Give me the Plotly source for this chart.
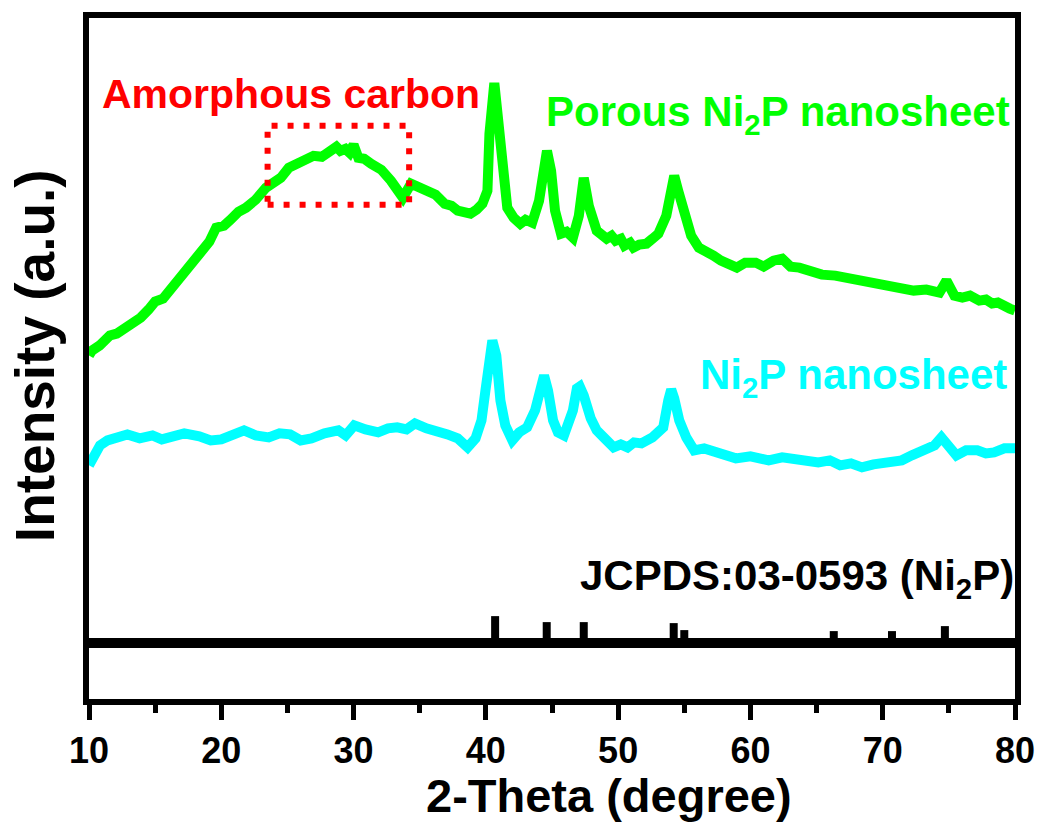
import plotly.graph_objects as go

# ---- data (2-theta in degrees, intensity in a.u.) ----
porous_theta = [10.0, 10.23, 10.8, 11.58, 12.1, 12.6, 13.3, 13.91, 14.5, 15.0, 15.6, 16.08, 16.7, 17.3,
                17.9, 18.49, 19.1, 19.61, 20.2, 20.7, 21.3, 21.87, 22.6, 23.37, 23.9, 24.5, 25.1, 25.62,
                26.3, 26.97, 27.6, 28.33, 28.7, 29.0, 29.38, 29.7, 30.0, 30.36, 30.8, 31.33, 32.1, 32.83,
                33.3, 33.73, 34.34, 34.9, 35.39, 36.2, 36.89, 37.4, 37.87, 38.4, 38.84, 39.3, 39.74, 40.12,
                40.27, 40.64, 41.10, 41.62, 42.1, 42.60, 43.0, 43.50, 44.02, 44.32, 44.62, 44.93, 45.23,
                45.68, 46.1, 46.58, 47.03, 47.40, 47.78, 48.38, 48.8, 49.13, 49.5, 49.81, 50.2, 50.48,
                50.9, 51.16, 51.6, 52.14, 52.6, 53.04, 53.64, 54.01, 54.24, 54.54, 54.99, 55.52, 56.1,
                56.72, 57.2, 57.77, 58.4, 58.97, 59.6, 60.40, 61.0, 61.75, 62.4, 63.03, 63.7, 64.53, 65.4,
                66.41, 67.3, 68.21, 69.2, 70.16, 71.2, 72.34, 73.3, 74.29, 74.6, 74.82, 75.42, 76.02, 76.6,
                77.30, 77.8, 78.27, 78.7, 79.17, 79.6, 80.0]
porous_int = [344, 349, 354, 364, 366, 370, 378, 382, 390, 398, 401, 409, 420, 430,
              436, 446, 458, 472, 474, 480, 488, 492, 500, 512, 516, 522, 532, 536,
              541, 544, 543, 549, 553, 549, 551, 547, 555, 542, 541, 536, 530, 519,
              512, 502, 516, 513, 512, 505, 496, 494, 489, 487, 486, 490, 496, 509,
              566, 617, 549, 492, 482, 476, 480, 477, 499, 534, 549, 529, 489,
              466, 468, 462, 484, 522, 494, 469, 465, 461, 464, 459, 461, 454,
              457, 452, 455, 456, 461, 466, 484, 509, 524, 509, 484, 464, 452,
              446, 444, 439, 436, 432, 437, 437, 433, 439, 441, 433, 432, 429, 425,
              424, 422, 419, 418, 415, 412, 409, 410, 407, 414, 419, 404, 402, 404,
              399, 400, 396, 397, 393, 391, 389]

ni2p_theta = [10.0, 10.23, 10.83, 11.4, 12.10, 12.9, 13.83, 14.8, 15.5, 16.23, 17.2, 18.34, 19.2, 20.0,
              20.9, 21.72, 22.6, 23.59, 24.4, 25.2, 26.0, 26.82, 27.8, 28.85, 29.4, 30.05, 30.9, 31.86,
              32.6, 33.3, 34.0, 34.64, 35.5, 36.36, 37.1, 37.87, 38.62, 39.22, 39.67, 39.97, 40.27, 40.49,
              40.79, 41.10, 41.47, 42.00, 42.52, 43.12, 43.72, 44.10, 44.40, 44.70, 45.08, 45.45, 45.90,
              46.58, 46.88, 47.10, 47.40, 47.93, 48.38, 48.91, 49.66, 50.2, 50.71, 51.2, 51.76, 52.59,
              53.41, 53.79, 54.01, 54.24, 54.62, 55.15, 55.75, 56.5, 57.40, 58.1, 58.90, 60.0, 61.38,
              62.4, 63.40, 64.2, 65.13, 66.0, 66.78, 67.6, 68.43, 69.3, 70.16, 71.44, 72.2, 72.94, 73.92,
              74.44, 74.82, 75.57, 76.3, 77.15, 77.8, 78.42, 79.2, 80.0]
ni2p_int = [234, 239, 254, 259, 262, 265, 261, 264, 260, 263, 266, 263, 259, 260,
            264, 269, 264, 262, 266, 265, 259, 261, 266, 269, 264, 274, 270, 267,
            271, 272, 270, 276, 271, 269, 265, 261, 252, 261, 279, 309, 349, 359,
            344, 299, 274, 259, 267, 272, 289, 314, 324, 309, 279, 267, 264,
            289, 311, 313, 304, 281, 269, 262, 252, 255, 252, 257, 256, 262,
            272, 299, 310, 301, 279, 262, 249, 251, 247, 245, 241, 243, 239,
            242, 241, 238, 237, 239, 234, 236, 232, 235, 236, 239, 244, 249, 254,
            262, 256, 244, 249, 249, 246, 247, 251, 251]

ref_theta = [40.7, 44.6, 47.4, 54.2, 55.0, 66.3, 70.7, 74.7]
ref_int = [83, 77, 77, 76, 69, 68, 68, 73]
ref_base = 56

x_ticks = [10, 20, 30, 40, 50, 60, 70, 80]
box_theta = [23.5, 34.2]
box_int = [495, 574]

GREEN = "#00FF00"
CYAN = "#00FFFF"
RED = "#FF0000"
FONT = "Liberation Sans"

fig = go.Figure()
fig.add_trace(go.Scatter(x=porous_theta, y=porous_int, mode="lines",
                         line=dict(color=GREEN, width=10), showlegend=False))
fig.add_trace(go.Scatter(x=ni2p_theta, y=ni2p_int, mode="lines",
                         line=dict(color=CYAN, width=10), showlegend=False))

# reference pattern baseline + sticks
fig.add_trace(go.Scatter(x=[10, 80], y=[ref_base, ref_base], mode="lines",
                         line=dict(color="black", width=10), showlegend=False))
sx, sy = [], []
for t, h in zip(ref_theta, ref_int):
    sx += [t, t, None]
    sy += [ref_base, h, None]
fig.add_trace(go.Scatter(x=sx, y=sy, mode="lines", line=dict(color="black", width=8),
                         showlegend=False))

fig.add_shape(type="rect", x0=box_theta[0], x1=box_theta[1], y0=box_int[0], y1=box_int[1],
              line=dict(color=RED, width=6, dash="6px,10px"))

ann_font = dict(family=FONT, size=42, weight="bold")
fig.add_annotation(x=10.83, y=606, text="Amorphous carbon", showarrow=False, xanchor="left",
                   yanchor="middle", font=dict(ann_font, size=41, color=RED))
fig.add_annotation(x=44.4, y=585, text="Porous Ni<sub>2</sub>P nanosheet", showarrow=False,
                   xanchor="left", yanchor="middle", font=dict(ann_font, color=GREEN))
fig.add_annotation(x=56.0, y=322, text="Ni<sub>2</sub>P nanosheet", showarrow=False,
                   xanchor="left", yanchor="middle", font=dict(ann_font, color=CYAN))
fig.add_annotation(x=47.0, y=121, text="JCPDS:03-0593 (Ni<sub>2</sub>P)", showarrow=False,
                   xanchor="left", yanchor="middle", font=dict(ann_font, color="black"))

fig.add_annotation(xref="paper", yref="paper", x=0.562, y=-0.141, text="2-Theta (degree)",
                   showarrow=False, xanchor="center", yanchor="middle",
                   font=dict(family=FONT, size=47, weight="bold", color="black"))
fig.add_annotation(xref="paper", yref="paper", x=-0.059, y=0.504, text="Intensity (a.u.)",
                   showarrow=False, xanchor="center", yanchor="middle", textangle=-90,
                   font=dict(family=FONT, size=55, weight="bold", color="black"))

fig.update_xaxes(range=[10, 80], tickvals=x_ticks, ticktext=[str(v) for v in x_ticks],
                 showline=True, linecolor="black", linewidth=6, mirror=True,
                 ticks="outside", ticklen=15, tickwidth=5, tickcolor="black",
                 ticklabelstandoff=0,
                 minor=dict(dtick=5, tick0=10, ticks="outside", ticklen=8, tickwidth=5,
                            tickcolor="black", showgrid=False),
                 tickfont=dict(family=FONT, size=36, weight="bold", color="black"),
                 showgrid=False, zeroline=False)
fig.update_yaxes(range=[0, 682], showline=True, linecolor="black", linewidth=6, mirror=True,
                 ticks="", showticklabels=False, showgrid=False, zeroline=False)

fig.update_layout(width=1047, height=823, margin=dict(l=89, r=26, t=17, b=124),
                  paper_bgcolor="white", plot_bgcolor="white", font=dict(family=FONT))
fig.write_html("out.html")
